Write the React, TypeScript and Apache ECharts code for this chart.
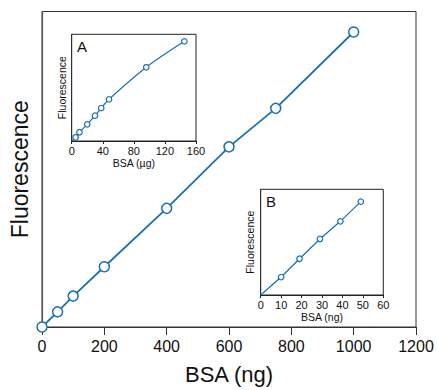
import React, { useEffect, useRef } from "react";
import * as echarts from "echarts";

const mainX = [0, 50, 100, 200, 400, 600, 750, 1000];
const mainY = [0, 4.8, 9.8, 19.1, 37.6, 57.1, 69.3, 93.5];
const mainXTicks = [0, 200, 400, 600, 800, 1000, 1200];

const insetAX = [0, 5, 10, 20, 30, 38, 48, 96, 145];
const insetAY = [0, 3.5, 8.2, 15.6, 23.7, 30.9, 39.1, 69.1, 93.4];

const insetBX = [0, 10, 19, 29, 39, 49];
const insetBY = [0, 17, 34.3, 53, 69.7, 88.3];

const BLUE = "#1a70b0";
const FONT = "Liberation Sans, Arial, Helvetica, sans-serif";

function pts(xs: number[], ys: number[], hideOrigin: boolean) {
  return xs.map((x, i) =>
    hideOrigin && x === 0 && ys[i] === 0
      ? { value: [x, ys[i]], symbol: "none" }
      : { value: [x, ys[i]] }
  );
}

export default function App() {
  const ref = useRef<HTMLDivElement>(null);
  useEffect(() => {
    if (!ref.current) return;
    const chart = echarts.init(ref.current, null, { renderer: "svg" });
    const axisText = (size: number) => ({ color: "#111", fontFamily: FONT, fontSize: size });
    const plain = (v: number) => String(v);
    chart.setOption({
      animation: false,
      backgroundColor: "#fff",
      grid: [
        { left: 41.5, top: 11.5, width: 374.5, height: 321, show: true, borderColor: "#333", borderWidth: 1, backgroundColor: "transparent" },
        { left: 71.7, top: 34.3, width: 124.3, height: 106.7, show: true, borderColor: "#222", borderWidth: 1, backgroundColor: "#fff", z: 5 },
        { left: 260.7, top: 189.3, width: 122.6, height: 105.7, show: true, borderColor: "#222", borderWidth: 1, backgroundColor: "#fff", z: 5 },
      ],
      xAxis: [
        {
          gridIndex: 0, type: "value", min: mainXTicks[0], max: mainXTicks[mainXTicks.length - 1], interval: 200,
          axisLine: { lineStyle: { color: "#333", width: 1 } },
          axisTick: { show: true, inside: false, length: 8, lineStyle: { color: "#333" } },
          axisLabel: { ...axisText(16), margin: 11, formatter: plain },
          splitLine: { show: false },
          name: "BSA (ng)", nameLocation: "middle", nameGap: 36,
          nameTextStyle: axisText(22),
        },
        {
          gridIndex: 1, type: "value", min: 0, max: 160, interval: 40,
          axisLine: { lineStyle: { color: "#222", width: 1 } },
          axisTick: { show: true, inside: false, length: 3, lineStyle: { color: "#222" } },
          axisLabel: { ...axisText(11), margin: 4, formatter: plain },
          splitLine: { show: false },
          name: "BSA (µg)", nameLocation: "middle", nameGap: 16,
          nameTextStyle: axisText(10.5),
        },
        {
          gridIndex: 2, type: "value", min: 0, max: 60, interval: 10,
          axisLine: { lineStyle: { color: "#222", width: 1 } },
          axisTick: { show: true, inside: false, length: 3, lineStyle: { color: "#222" } },
          axisLabel: { ...axisText(11), margin: 4, formatter: plain },
          splitLine: { show: false },
          name: "BSA (ng)", nameLocation: "middle", nameGap: 16,
          nameTextStyle: axisText(10.5),
        },
      ],
      yAxis: [
        {
          gridIndex: 0, type: "value", min: 0, max: 100,
          axisLine: { show: true, lineStyle: { color: "#555", width: 1.2 } },
          axisTick: { show: false }, axisLabel: { show: false }, splitLine: { show: false },
          name: "Fluorescence", nameLocation: "middle", nameGap: 11,
          nameTextStyle: axisText(23),
        },
        {
          gridIndex: 1, type: "value", min: 0, max: 100,
          axisLine: { show: true, lineStyle: { color: "#222" } },
          axisTick: { show: false }, axisLabel: { show: false }, splitLine: { show: false },
          name: "Fluorescence", nameLocation: "middle", nameGap: 4,
          nameTextStyle: axisText(10.5),
        },
        {
          gridIndex: 2, type: "value", min: 0, max: 100,
          axisLine: { show: true, lineStyle: { color: "#222" } },
          axisTick: { show: false }, axisLabel: { show: false }, splitLine: { show: false },
          name: "Fluorescence", nameLocation: "middle", nameGap: 5,
          nameTextStyle: axisText(10.5),
        },
      ],
      series: [
        {
          type: "line", xAxisIndex: 0, yAxisIndex: 0, data: pts(mainX, mainY, false),
          symbol: "circle", symbolSize: 10, showAllSymbol: true,
          lineStyle: { color: BLUE, width: 1.8 },
          itemStyle: { color: "#fff", borderColor: BLUE, borderWidth: 1.5 },
          z: 2,
        },
        {
          type: "line", xAxisIndex: 1, yAxisIndex: 1, data: pts(insetAX, insetAY, true),
          smooth: 0.3,
          symbol: "circle", symbolSize: 5.5, showAllSymbol: true,
          lineStyle: { color: BLUE, width: 1.2 },
          itemStyle: { color: "#fff", borderColor: BLUE, borderWidth: 1.2 },
          z: 6,
        },
        {
          type: "line", xAxisIndex: 2, yAxisIndex: 2, data: pts(insetBX, insetBY, true),
          symbol: "circle", symbolSize: 5.5, showAllSymbol: true,
          lineStyle: { color: BLUE, width: 1.2 },
          itemStyle: { color: "#fff", borderColor: BLUE, borderWidth: 1.2 },
          z: 6,
        },
      ],
      graphic: [
        { type: "text", left: 77, top: 39, z: 10, style: { text: "A", font: `15px ${FONT}`, fill: "#111" } },
        { type: "text", left: 266, top: 194, z: 10, style: { text: "B", font: `15px ${FONT}`, fill: "#111" } },
      ],
    });
    return () => chart.dispose();
  }, []);
  return <div ref={ref} style={{ position: "fixed", left: 0, top: 0, width: 437, height: 390 }} />;
}
